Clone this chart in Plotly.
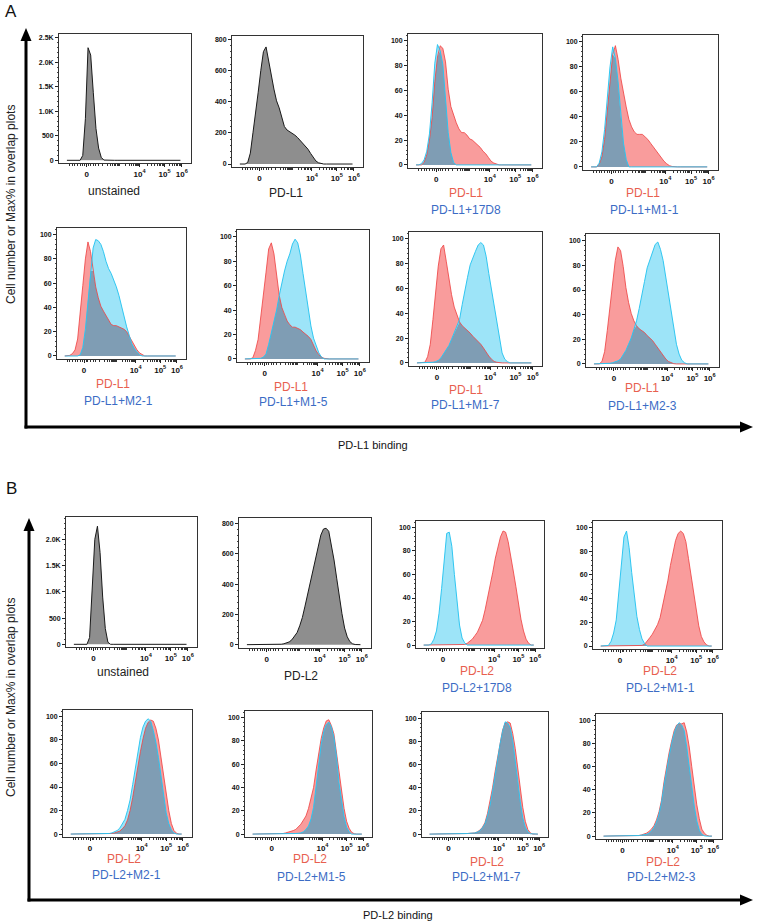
import math
import numpy as np
import plotly.graph_objects as go

# ---------------- data ----------------
# histogram bin positions on the transformed (biexponential) display axis, 0..100
BIN_U = [6, 8, 10, 12, 14, 16, 18, 20, 22, 24,
         26, 28, 30, 32, 34, 36, 38, 40, 42, 44,
         46, 48, 50, 52, 54, 56, 58, 60, 62, 64,
         66, 68, 70, 72, 74, 76, 78, 80, 82, 84,
         86, 88, 90, 92]
X_TICK_POS = [21, 61, 80, 93]
X_TICK_TEXT = ["0", "10<sup>4</sup>", "10<sup>5</sup>", "10<sup>6</sup>"]

# Panel A (PD-L1 binding)
A1_UNSTAINED = [0, 0, 0, 0, 0, 0, 100, 850, 2300, 2150,
                1380, 650, 250, 60, 5, 0, 0, 0, 0, 0,
                0, 0, 0, 0, 0, 0, 0, 0, 0, 0,
                0, 0, 0, 0, 0, 0, 0, 0, 0, 0,
                0, 0, 0, 0]
A2_PDL1 = [0, 0, 0, 10, 70, 200, 320, 460, 600, 720,
           750, 670, 570, 480, 405, 360, 300, 240, 218, 208,
           200, 185, 170, 152, 137, 120, 95, 68, 40, 20,
           8, 2, 0, 0, 0, 0, 0, 0, 0, 0,
           0, 0, 0, 0]
A3_RED = [0, 0, 0, 2, 8, 20, 38, 67, 87, 96,
          94, 83, 61, 47, 40, 34, 29, 26, 26, 24,
          21, 20, 18, 16, 14, 11, 9, 6, 3, 1.5,
          0.5, 0, 0, 0, 0, 0, 0, 0, 0, 0,
          0, 0, 0, 0]
A3_BLUE = [0, 0, 1, 4, 11, 25, 50, 82, 97, 92,
           81, 54, 26, 10, 2, 0, 0, 0, 0, 0,
           0, 0, 0, 0, 0, 0, 0, 0, 0, 0,
           0, 0, 0, 0, 0, 0, 0, 0, 0, 0,
           0, 0, 0, 0]
A4_RED = [0, 0, 0, 2, 8, 22, 45, 72, 90, 97,
          86, 71, 58, 48, 38, 32, 28, 26, 26, 26,
          24, 22, 19, 16, 13, 10, 7, 4.5, 2.5, 1,
          0.3, 0, 0, 0, 0, 0, 0, 0, 0, 0,
          0, 0, 0, 0]
A4_BLUE = [0, 0, 0, 3, 12, 30, 55, 80, 96, 87,
           68, 40, 19, 6, 0, 0, 0, 0, 0, 0,
           0, 0, 0, 0, 0, 0, 0, 0, 0, 0,
           0, 0, 0, 0, 0, 0, 0, 0, 0, 0,
           0, 0, 0, 0]
A5_RED = [0, 0, 0.5, 2, 5, 14, 34, 58, 80, 94,
          86, 70, 57, 48, 41, 37, 33, 29, 26, 25,
          25, 24, 23, 22, 20, 16, 12, 8.5, 5, 2.5,
          1, 0, 0, 0, 0, 0, 0, 0, 0, 0,
          0, 0, 0, 0]
A5_BLUE = [0, 0, 0, 0, 0, 0, 1, 7, 22, 44,
           70, 89, 96, 95, 92, 86, 78, 72, 68, 63,
           57, 50, 41, 32, 24, 17, 10, 6, 3, 1,
           0, 0, 0, 0, 0, 0, 0, 0, 0, 0,
           0, 0, 0, 0]
A6_RED = [0, 0, 0, 1, 7, 16, 33, 51, 71, 90,
          95, 86, 68, 52, 42, 36, 31, 28, 26, 26,
          25, 24, 22, 20.5, 18.5, 16, 11, 6.5, 3.5, 1.5,
          0.5, 0, 0, 0, 0, 0, 0, 0, 0, 0,
          0, 0, 0, 0]
A6_BLUE = [0, 0, 0, 0, 0, 0, 0.5, 1.5, 4, 12,
           21, 30, 40, 52, 63, 72, 80, 86, 94, 98,
           95, 85, 70, 55, 40, 27, 17, 10, 5, 1.5,
           0, 0, 0, 0, 0, 0, 0, 0, 0, 0,
           0, 0, 0, 0]
A7_RED = [0, 0, 0, 0.5, 5, 15, 35, 57, 78, 92,
          95, 82, 67, 55, 45, 38, 33, 30, 28, 26.5,
          24, 21.5, 19.5, 17, 15, 12, 8.5, 5.5, 3, 1.2,
          0.5, 0, 0, 0, 0, 0, 0, 0, 0, 0,
          0, 0, 0, 0]
A7_BLUE = [0, 0, 0, 0, 0, 0, 0.5, 1, 2, 4,
           7, 10, 14, 19, 24, 29, 35, 47, 59, 69,
           79, 85, 90, 95, 97, 95, 86, 72, 59, 46,
           31, 18, 8, 3, 1, 0, 0, 0, 0, 0,
           0, 0, 0, 0]
A8_RED = [0, 0, 0, 2, 10, 27, 47, 67, 84, 95,
          92, 79, 62, 50, 41, 35, 31, 28.5, 27, 25.5,
          23, 21, 19, 16, 13, 10, 6.5, 4, 2, 0.8,
          0.2, 0, 0, 0, 0, 0, 0, 0, 0, 0,
          0, 0, 0, 0]
A8_BLUE = [0, 0, 0, 0, 0, 0.3, 0.5, 1, 1.5, 2.5,
           4, 7, 11, 16, 21, 28, 35, 45, 55, 67,
           78, 85, 91, 97, 99, 93, 84, 71, 56, 42,
           29, 16, 8, 3, 1, 0, 0, 0, 0, 0,
           0, 0, 0, 0]

# Panel B (PD-L2 binding)
B1_UNSTAINED = [0, 0, 0, 0, 0, 0, 130, 950, 2000, 2250,
                1750, 900, 300, 40, 0, 0, 0, 0, 0, 0,
                0, 0, 0, 0, 0, 0, 0, 0, 0, 0,
                0, 0, 0, 0, 0, 0, 0, 0, 0, 0,
                0, 0, 0, 0]
B2_PDL2 = [0, 0, 0, 0, 2, 3, 3, 3, 2, 2,
           2, 2, 2, 3, 6, 11, 18, 32, 55, 80,
           125, 180, 255, 335, 410, 495, 580, 660, 725, 765,
           770, 750, 665, 560, 440, 315, 205, 110, 52, 20,
           6, 1, 0, 0]
B3_RED = [0, 0, 0, 0, 0, 0, 0, 0, 0, 0,
          0, 0, 0, 0, 0, 0, 0.5, 1.5, 3, 5,
          8, 11, 16, 21, 30, 40, 50, 62, 74, 84,
          92, 97, 96, 88, 77, 63, 50, 35, 22, 12,
          5, 1.5, 0, 0]
B3_BLUE = [0, 0, 0, 1, 5, 12, 27, 48, 75, 95,
           96, 84, 60, 35, 17, 6, 2, 0, 0, 0,
           0, 0, 0, 0, 0, 0, 0, 0, 0, 0,
           0, 0, 0, 0, 0, 0, 0, 0, 0, 0,
           0, 0, 0, 0]
B4_RED = [0, 0, 0, 0, 0, 0, 0, 0, 0, 0,
          0, 0, 0, 0, 0, 0, 0.5, 1.5, 4, 7,
          10, 14, 18, 24, 34, 44, 55, 68, 79, 89,
          95, 97, 95, 88, 74, 59, 43, 29, 17, 8,
          3.5, 1, 0, 0]
B4_BLUE = [0, 0, 0, 0.5, 4, 11, 22, 44, 70, 92,
           97, 83, 62, 41, 25, 14, 6, 2, 0, 0,
           0, 0, 0, 0, 0, 0, 0, 0, 0, 0,
           0, 0, 0, 0, 0, 0, 0, 0, 0, 0,
           0, 0, 0, 0]
B5_RED = [0, 0, 0, 0, 0.5, 0.5, 0.5, 0.5, 0.5, 0.5,
          0.5, 0.5, 0.5, 0.5, 0.5, 0.5, 0.5, 1, 1.5, 2.5,
          4.5, 7, 12, 20, 31, 45, 57, 70, 81, 90,
          95, 97, 96, 90, 80, 65, 49, 33, 20, 9,
          3, 0.7, 0, 0]
B5_BLUE = [0, 0, 0, 0, 0.5, 0.5, 0.5, 0.5, 0.5, 0.5,
           0.5, 0.5, 0.5, 0.5, 0.5, 0.5, 1, 2, 3, 5,
           8.5, 12.5, 20, 29, 42, 56, 70, 82, 91, 96,
           98, 96, 88, 78, 65, 50, 35, 18, 9, 3.5,
           1, 0, 0, 0]
B6_RED = [0, 0, 0, 0, 0.5, 0.5, 0.5, 0.5, 0.5, 0.5,
          0.5, 0.5, 0.5, 1, 1.5, 2, 3, 4, 6, 8.5,
          12, 15.5, 22, 30, 40, 55, 70, 82, 91, 97,
          98, 93, 86, 70, 53, 36, 22, 11, 5, 1.5,
          0.3, 0, 0, 0]
B6_BLUE = [0, 0, 0, 0, 0.3, 0.3, 0.3, 0.3, 0.3, 0.3,
           0.3, 0.3, 0.3, 0.3, 0.3, 0.3, 0.3, 0.5, 0.7, 1,
           2, 4, 7, 13, 23, 40, 61, 77, 88, 94,
           96, 92, 83, 67, 44, 28, 15, 6, 2, 0,
           0, 0, 0, 0]
B7_RED = [0, 0, 0, 0, 0.3, 0.3, 0.3, 0.3, 0.3, 0.3,
          0.3, 0.3, 0.3, 0.3, 0.5, 0.5, 0.7, 0.8, 1, 2,
          3.5, 6, 10, 18, 28, 40, 54, 67, 80, 90,
          96, 97, 96, 87, 74, 56, 38, 23, 11, 4,
          1, 0, 0, 0]
B7_BLUE = [0, 0, 0, 0, 0.3, 0.3, 0.3, 0.3, 0.3, 0.3,
           0.3, 0.3, 0.3, 0.3, 0.5, 0.5, 0.7, 0.8, 1, 1.8,
           3, 5.5, 9, 16, 25, 37, 52, 65, 78, 89,
           97, 96, 92, 81, 65, 46, 28, 14, 6, 2,
           0.3, 0, 0, 0]
B8_RED = [0, 0, 0, 0, 0.5, 0.5, 0.5, 0.5, 0.5, 0.5,
          0.5, 0.5, 0.5, 0.5, 0.5, 1, 1.5, 2.5, 4, 6,
          9, 14, 21, 31, 47, 61, 72, 82, 91, 96,
          97, 97, 98, 90, 77, 60, 42, 27, 15, 6,
          2.5, 0.7, 0, 0]
B8_BLUE = [0, 0, 0, 0, 0.5, 0.5, 0.5, 0.5, 0.5, 0.5,
           0.5, 0.5, 0.5, 0.5, 0.5, 0.8, 1, 1.5, 2.5, 4.5,
           7.5, 12, 19, 29, 44, 58, 69, 80, 89, 95,
           98, 96, 91, 77, 59, 42, 26, 13, 5, 1.5,
           0.3, 0, 0, 0]

K_TICKS = [0, 500, 1000, 1500, 2000, 2500]
K_TEXT = ["0", "500", "1.0K", "1.5K", "2.0K", "2.5K"]
C_TICKS = [0, 200, 400, 600, 800]
P_TICKS = [0, 20, 40, 60, 80, 100]

# ---------------- layout / style ----------------
W, H = 757, 922
GREY_FILL = "#8e8e8e"
RED_FILL = "#f99c9c"
BLUE_FILL = "#9de4f8"
OVER_FILL = "#7f9db4"
RED_LINE = "rgba(238,70,70,0.85)"
BLUE_LINE = "rgba(40,196,240,0.95)"
RED_TXT = "#e8604f"
BLUE_TXT = "#3b6cc5"
FONT = "Arial, Liberation Sans, sans-serif"

PR = [-2.5, 105.5]
panels = [
    # box = (left, right, top, bottom) in px
    dict(box=(59, 191, 34, 163), yr=[-55, 2580], yt=(K_TICKS, K_TEXT), ym=100,
         grey=A1_UNSTAINED, labels=[("unstained", "#222", 114, 191)]),
    dict(box=(232, 363, 36, 167), yr=[-19, 820], yt=(C_TICKS, None), ym=40,
         grey=A2_PDL1, labels=[("PD-L1", "#222", 286, 193)]),
    dict(box=(408, 542, 34, 168), yr=PR, yt=(P_TICKS, None), ym=4,
         red=A3_RED, blue=A3_BLUE, labels=[("PD-L1", RED_TXT, 466, 193), ("PD-L1+17D8", BLUE_TXT, 466, 210)]),
    dict(box=(583, 718, 35, 170), yr=PR, yt=(P_TICKS, None), ym=4,
         red=A4_RED, blue=A4_BLUE, labels=[("PD-L1", RED_TXT, 643, 193), ("PD-L1+M1-1", BLUE_TXT, 644, 210)]),
    dict(box=(57, 186, 228, 359), yr=PR, yt=(P_TICKS, None), ym=4,
         red=A5_RED, blue=A5_BLUE, labels=[("PD-L1", RED_TXT, 113, 384), ("PD-L1+M2-1", BLUE_TXT, 118, 401)]),
    dict(box=(237, 369, 230, 362), yr=PR, yt=(P_TICKS, None), ym=4,
         red=A6_RED, blue=A6_BLUE, labels=[("PD-L1", RED_TXT, 291, 387), ("PD-L1+M1-5", BLUE_TXT, 293, 402)]),
    dict(box=(409, 542, 232, 366), yr=PR, yt=(P_TICKS, None), ym=4,
         red=A7_RED, blue=A7_BLUE, labels=[("PD-L1", RED_TXT, 466, 390), ("PD-L1+M1-7", BLUE_TXT, 465, 405)]),
    dict(box=(586, 719, 234, 367), yr=PR, yt=(P_TICKS, None), ym=4,
         red=A8_RED, blue=A8_BLUE, labels=[("PD-L1", RED_TXT, 642, 388), ("PD-L1+M2-3", BLUE_TXT, 642, 406)]),
    dict(box=(66, 197, 517, 647), yr=[-51, 2425], yt=(K_TICKS[:-1], K_TEXT[:-1]), ym=100,
         grey=B1_UNSTAINED, labels=[("unstained", "#222", 123, 672)]),
    dict(box=(239, 371, 518, 648), yr=[-22, 838], yt=(C_TICKS, None), ym=40,
         grey=B2_PDL2, labels=[("PD-L2", "#222", 301, 676)]),
    dict(box=(416, 544, 521, 648), yr=PR, yt=(P_TICKS, None), ym=4,
         red=B3_RED, blue=B3_BLUE, labels=[("PD-L2", RED_TXT, 477, 671), ("PD-L2+17D8", BLUE_TXT, 477, 688)]),
    dict(box=(593, 722, 521, 649), yr=PR, yt=(P_TICKS, None), ym=4,
         red=B4_RED, blue=B4_BLUE, labels=[("PD-L2", RED_TXT, 660, 671), ("PD-L2+M1-1", BLUE_TXT, 660, 688)]),
    dict(box=(63, 192, 710, 837), yr=PR, yt=(P_TICKS, None), ym=4,
         red=B5_RED, blue=B5_BLUE, labels=[("PD-L2", RED_TXT, 124, 859), ("PD-L2+M2-1", BLUE_TXT, 126, 875)]),
    dict(box=(245, 372, 711, 837), yr=PR, yt=(P_TICKS, None), ym=4,
         red=B6_RED, blue=B6_BLUE, labels=[("PD-L2", RED_TXT, 310, 859), ("PD-L2+M1-5", BLUE_TXT, 311, 877)]),
    dict(box=(422, 548, 712, 837), yr=PR, yt=(P_TICKS, None), ym=4,
         red=B7_RED, blue=B7_BLUE, labels=[("PD-L2", RED_TXT, 487, 862), ("PD-L2+M1-7", BLUE_TXT, 486, 877)]),
    dict(box=(596, 722, 714, 839), yr=PR, yt=(P_TICKS, None), ym=4,
         red=B8_RED, blue=B8_BLUE, labels=[("PD-L2", RED_TXT, 663, 862), ("PD-L2+M2-3", BLUE_TXT, 661, 877)]),
]

# minor tick positions along the biexponential axis (style only)
X_MINOR = [8, 10, 12, 14, 16, 18, 19.5, 22.5, 24, 26, 28, 30, 33, 46]
for base, span in [(33, 13), (46, 15), (61, 19), (80, 13)]:
    for k in range(2, 10):
        X_MINOR.append(base + span * math.log10(k))

def px_x(v):
    return v / W

def px_y(v):
    return 1 - v / H

fig = go.Figure()
layout = {}
annotations = []
shapes = []
ytickfont = dict(family=FONT, size=7, color="#111", weight="bold")
xtickfont = dict(family=FONT, size=8, color="#111", weight="bold")

for i, p in enumerate(panels, start=1):
    xa = "x" if i == 1 else f"x{i}"
    ya = "y" if i == 1 else f"y{i}"
    l, r, t, b = p["box"]
    layout["xaxis" if i == 1 else f"xaxis{i}"] = dict(
        domain=[px_x(l), px_x(r)], range=[0, 100], anchor=ya,
        tickmode="array", tickvals=X_TICK_POS, ticktext=X_TICK_TEXT,
        ticks="outside", ticklen=3, tickwidth=1, tickcolor="#222",
        showline=True, linecolor="#333", linewidth=1, mirror=True,
        showgrid=False, zeroline=False, tickfont=xtickfont, automargin=False,
        minor=dict(tickmode="array", tickvals=X_MINOR, ticks="outside",
                   ticklen=2, tickwidth=1, tickcolor="#333", showgrid=False),
    )
    tv, tt = p["yt"]
    yax = dict(
        domain=[px_y(b), px_y(t)], range=p["yr"], anchor=xa,
        tickmode="array", tickvals=tv,
        ticks="outside", ticklen=3, tickwidth=1, tickcolor="#222",
        showline=True, linecolor="#333", linewidth=1, mirror=True,
        showgrid=False, zeroline=False, tickfont=ytickfont, automargin=False,
        minor=dict(tickmode="linear", tick0=0, dtick=p["ym"], ticks="outside",
                   ticklen=1.5, tickwidth=1, tickcolor="#444", showgrid=False),
    )
    if tt is not None:
        yax["ticktext"] = tt
    layout["yaxis" if i == 1 else f"yaxis{i}"] = yax

    if "grey" in p:
        fig.add_trace(go.Scatter(x=BIN_U, y=p["grey"], mode="lines", fill="tozeroy",
                                 fillcolor=GREY_FILL, line=dict(color="#1a1a1a", width=1),
                                 xaxis=xa, yaxis=ya, showlegend=False, hoverinfo="skip"))
    else:
        red = np.array(p["red"], dtype=float)
        blue = np.array(p["blue"], dtype=float)
        both = np.minimum(red, blue)
        for yv, fc in [(red, RED_FILL), (blue, BLUE_FILL), (both, OVER_FILL)]:
            fig.add_trace(go.Scatter(x=BIN_U, y=yv, mode="lines", fill="tozeroy",
                                     fillcolor=fc, line=dict(width=0, color=fc),
                                     xaxis=xa, yaxis=ya, showlegend=False, hoverinfo="skip"))
        for yv, lc in [(red, RED_LINE), (blue, BLUE_LINE)]:
            fig.add_trace(go.Scatter(x=BIN_U, y=yv, mode="lines",
                                     line=dict(width=1, color=lc),
                                     xaxis=xa, yaxis=ya, showlegend=False, hoverinfo="skip"))

    for text, color, cx, cy in p["labels"]:
        annotations.append(dict(text=text, x=px_x(cx), y=px_y(cy), xref="paper", yref="paper",
                                xanchor="center", yanchor="middle", showarrow=False,
                                font=dict(family=FONT, size=12, color=color)))

# section letters and big axis titles
for txt, x, y in [("A", 11, 12), ("B", 11, 488)]:
    annotations.append(dict(text=txt, x=px_x(x), y=px_y(y), xref="paper", yref="paper",
                            xanchor="center", yanchor="middle", showarrow=False,
                            font=dict(family=FONT, size=17, color="#111")))
for cy in [205, 698]:
    annotations.append(dict(text="Cell number or Max% in overlap plots", x=px_x(11), y=px_y(cy),
                            xref="paper", yref="paper", textangle=-90, xanchor="center",
                            yanchor="middle", showarrow=False,
                            font=dict(family=FONT, size=12, color="#222")))
for txt, cx, cy in [("PD-L1 binding", 373, 445), ("PD-L2 binding", 398, 915)]:
    annotations.append(dict(text=txt, x=px_x(cx), y=px_y(cy), xref="paper", yref="paper",
                            xanchor="center", yanchor="middle", showarrow=False,
                            font=dict(family=FONT, size=11, color="#111")))

# big L-shaped arrows
def arrow_set(xv, ytip, ycorner, xtip):
    s = []
    s.append(dict(type="line", xref="paper", yref="paper", x0=px_x(xv), x1=px_x(xv),
                  y0=px_y(ytip + 10), y1=px_y(ycorner + 1.5), line=dict(color="#000", width=3)))
    s.append(dict(type="line", xref="paper", yref="paper", x0=px_x(xv - 1.5), x1=px_x(xtip - 10),
                  y0=px_y(ycorner), y1=px_y(ycorner), line=dict(color="#000", width=3)))
    s.append(dict(type="path", xref="paper", yref="paper",
                  path=f"M {px_x(xv)} {px_y(ytip)} L {px_x(xv - 5.5)} {px_y(ytip + 13)} "
                       f"L {px_x(xv + 5.5)} {px_y(ytip + 13)} Z",
                  fillcolor="#000", line=dict(width=0)))
    s.append(dict(type="path", xref="paper", yref="paper",
                  path=f"M {px_x(xtip)} {px_y(ycorner)} L {px_x(xtip - 13)} {px_y(ycorner - 5.5)} "
                       f"L {px_x(xtip - 13)} {px_y(ycorner + 5.5)} Z",
                  fillcolor="#000", line=dict(width=0)))
    return s

shapes += arrow_set(26, 28, 427, 753)
shapes += arrow_set(29, 518, 900, 753)

fig.update_layout(
    width=W, height=H, margin=dict(l=0, r=0, t=0, b=0, pad=0),
    paper_bgcolor="white", plot_bgcolor="white",
    showlegend=False, annotations=annotations, shapes=shapes,
    font=dict(family=FONT),
    **layout,
)

fig.write_html("out.html", config={"displayModeBar": False, "staticPlot": True},
               post_script="document.body.style.margin='0';document.body.style.overflow='hidden';")
